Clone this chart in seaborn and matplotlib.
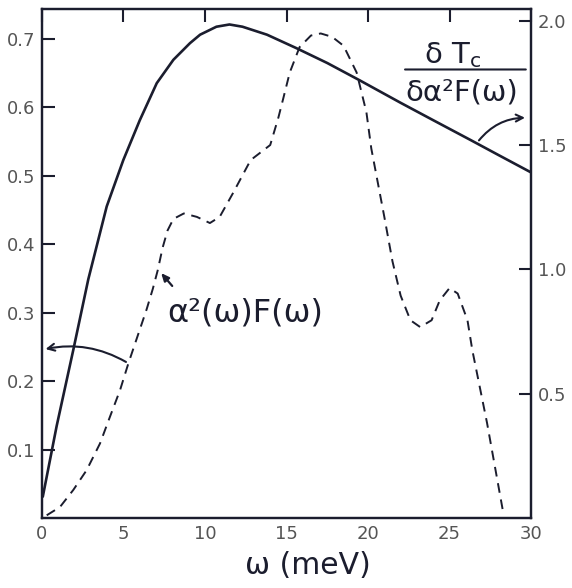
import numpy as np
import pandas as pd
import matplotlib
matplotlib.use('Agg')
import matplotlib.pyplot as plt
import seaborn as sns

# alpha^2(w)F(w)  (left axis, dashed)
omega_a2f = [0.29, 1.1, 1.92, 2.74, 3.56, 4.17, 4.79, 5.3, 5.81, 6.42, 6.8, 7.1, 7.4,
             7.7, 8.06, 8.7, 9.5, 10.3, 10.9, 11.7, 12.8, 13.4, 14.0, 14.5, 14.8, 15.2,
             15.8, 16.5, 17.1, 17.8, 18.5, 19.3, 19.9, 20.2, 20.6, 21.0, 21.5, 22.0,
             22.6, 23.2, 23.9, 24.4, 25.0, 25.5, 26.1, 26.4, 27.3, 28.3]
a2f = [0.004, 0.016, 0.041, 0.07, 0.109, 0.148, 0.187, 0.226, 0.262, 0.305, 0.335, 0.362,
       0.395, 0.42, 0.437, 0.445, 0.44, 0.431, 0.44, 0.474, 0.523, 0.534, 0.545, 0.585,
       0.613, 0.651, 0.688, 0.705, 0.708, 0.703, 0.69, 0.651, 0.593, 0.54, 0.49, 0.44,
       0.375, 0.325, 0.289, 0.279, 0.289, 0.318, 0.336, 0.328, 0.289, 0.245, 0.139, 0.007]

# dTc / d alpha^2F(w)  (right axis, solid)
omega_dtc = [0.05, 0.9, 1.92, 2.84, 3.97, 4.99, 6.0, 7.04, 8.06, 9.08, 9.7, 10.7, 11.5,
             12.3, 13.8, 15.6, 17.5, 19.5, 22.0, 24.0, 26.3, 28.0, 30.0]
dtc = [0.086, 0.37, 0.676, 0.96, 1.253, 1.44, 1.60, 1.749, 1.843, 1.91, 1.944, 1.976,
       1.985, 1.976, 1.944, 1.89, 1.83, 1.76, 1.67, 1.60, 1.52, 1.46, 1.39]

x_ticks = [0, 5, 10, 15, 20, 25, 30]
left_ticks = [0.1, 0.2, 0.3, 0.4, 0.5, 0.6, 0.7]
right_ticks = [0.5, 1.0, 1.5, 2.0]

ink = '#1b1d2e'
grey = '#555555'

sns.set_style('white')
plt.rcParams['font.family'] = ['DejaVu Sans']
plt.rcParams['mathtext.fontset'] = 'dejavusans'

fig = plt.figure(figsize=(5.72, 5.88), dpi=100)
ax = fig.add_axes([0.0734, 0.119, 0.855, 0.866])
ax2 = ax.twinx()

df1 = pd.DataFrame({'w': omega_a2f, 'v': a2f})
df2 = pd.DataFrame({'w': omega_dtc, 'v': dtc})
sns.lineplot(data=df1, x='w', y='v', ax=ax, color=ink, lw=1.4, linestyle=(0, (5, 3.5)))
sns.lineplot(data=df2, x='w', y='v', ax=ax2, color=ink, lw=1.9)

ax.set_xlim(0, 30)
ax.set_ylim(0, 0.744)
ax2.set_ylim(0, 2.048)

ax.set_xticks(x_ticks)
ax.set_yticks(left_ticks)
ax2.set_yticks(right_ticks)
ax.set_yticklabels([str(t) for t in left_ticks])
ax2.set_yticklabels([f'{t:.1f}' for t in right_ticks])

ax.tick_params(axis='both', direction='in', length=9, width=1.5, color=ink,
               labelsize=13, labelcolor=grey, top=True, pad=5)
ax2.tick_params(axis='y', direction='in', length=9, width=1.5, color=ink,
                labelsize=13, labelcolor=grey, pad=5)
for a in (ax, ax2):
    for s in a.spines.values():
        s.set_linewidth(1.6)
        s.set_color(ink)
ax.set_ylabel('')
ax2.set_ylabel('')
ax.set_xlabel('ω (meV)', fontsize=21.5, color=ink)
ax.xaxis.set_label_coords(0.544, -0.064)

# labels and arrows
ax.text(12.45, 0.30, 'α²(ω)F(ω)', fontsize=23, color=ink, ha='center', va='center')
ax.annotate('', xy=(7.2, 0.361), xytext=(8.1, 0.336),
            arrowprops=dict(arrowstyle='-|>,head_length=0.45,head_width=0.2', color=ink, lw=1.6))
ax.annotate('', xy=(0.05, 0.246), xytext=(5.3, 0.226),
            arrowprops=dict(arrowstyle='->,head_length=0.5,head_width=0.25', color=ink, lw=1.5,
                            connectionstyle='arc3,rad=0.2'))
ax2.annotate('', xy=(29.8, 1.61), xytext=(26.7, 1.51),
             arrowprops=dict(arrowstyle='->,head_length=0.5,head_width=0.25', color=ink, lw=1.5,
                             connectionstyle='arc3,rad=-0.25'))

ax2.text(25.2, 1.86, 'δ T$_{\\mathregular{c}}$', fontsize=21, color=ink, ha='center', va='center')
ax2.annotate('', xy=(29.85, 1.804), xytext=(22.1, 1.804),
             arrowprops=dict(arrowstyle='-', color=ink, lw=1.5))
ax2.text(25.75, 1.71, 'δα²F(ω)', fontsize=21, color=ink, ha='center', va='center')

fig.savefig('out.png', dpi=100)
